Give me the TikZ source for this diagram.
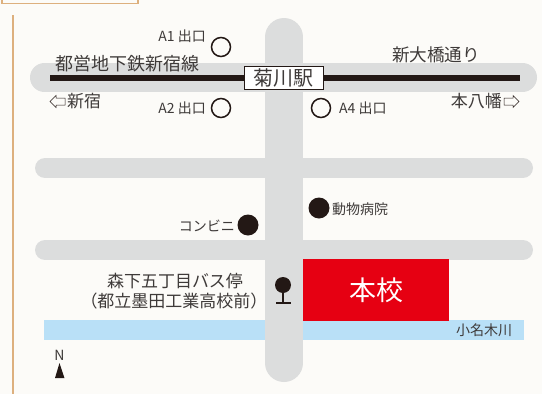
\documentclass[tikz,border=0pt]{standalone}
\usepackage{fontspec}
\setmainfont{Noto Sans CJK JP}[Scale=1]
\definecolor{bgc}{HTML}{FCFBF8}
\definecolor{roadc}{HTML}{DCDDDD}
\definecolor{inkc}{HTML}{231815}
\definecolor{textc}{HTML}{3E3A39}
\definecolor{tanc}{HTML}{DDB07E}
\definecolor{riverc}{HTML}{B9E0F7}
\definecolor{redc}{HTML}{E60012}
\tikzset{
 road/.style={line width=#1,draw=roadc,line cap=round},
 lbl/.style={text=textc,inner sep=0pt,font=\fontsize{#1}{#1}\selectfont},
 exitc/.style={circle,draw=inkc,line width=1.5pt,fill=none,minimum size=19pt,inner sep=0pt},
 spot/.style={circle,fill=inkc,minimum size=21pt,inner sep=0pt},
 hollowarrow/.style={draw=inkc,line width=0.5pt,fill=none}
}
\begin{document}
\begin{tikzpicture}[x=1pt,y=-1pt]
\useasboundingbox (0,0) rectangle (542,394);
\fill[bgc] (0,0) rectangle (542,394);
% frame remains
\draw[tanc,line width=1.6pt] (2,-2) -- (2,3.5) -- (138,3.5) -- (138,-2);
\draw[tanc,line width=1.2pt] (13,15) -- (13,394);
% river
\fill[riverc] (44,320) rectangle (524,340);
% roads
\draw[road=29pt] (44.5,77.5) -- (522.5,77.5);
\draw[road=20pt] (45,168) -- (523,168);
\draw[road=20pt] (45,250) -- (523,250);
\draw[road=38pt] (284,37) -- (284,363);
% school
\node[fill=redc,text=white,minimum width=146pt,minimum height=62pt,inner sep=0pt,font=\fontsize{27}{27}\selectfont] (school) at (376,290) {本校};
% subway
\coordinate (lineW) at (50,78);
\coordinate (lineE) at (520,78);
\draw[inkc,line width=6.5pt] (lineW) -- (lineE);
\node[draw=inkc,fill=white,line width=0.8pt,minimum width=79pt,minimum height=23pt,inner sep=0pt,text=textc,font=\fontsize{20}{20}\selectfont] (station) at (283.5,78) {菊川駅};
% labels
\node[lbl=18] (subway) at (127.5,64) {都営地下鉄新宿線};
\node[lbl=17.6] (street) at (436,55) {新大橋通り};
\node[lbl=17,anchor=west] (shinjuku) at (67,101.5) {新宿};
\node[lbl=17,anchor=east] (moto) at (502,101.5) {本八幡};
\draw[hollowarrow] (65,98) -- (56,98) -- (56,95.5) -- (50,101.5) -- (56,107.5) -- (56,105) -- (65,105) -- cycle;
\draw[hollowarrow] (504,98) -- (513,98) -- (513,95.5) -- (519,101.5) -- (513,107.5) -- (513,105) -- (504,105) -- cycle;
% exits
\node[exitc] (a1) at (221,47) {};
\node[exitc] (a2) at (221,108) {};
\node[exitc] (a4) at (321,108) {};
\node[lbl=14,anchor=east] (a1t) at (206,36) {A1 出口};
\node[lbl=14,anchor=east] (a2t) at (206,108) {A2 出口};
\node[lbl=14,anchor=west] (a4t) at (339,108) {A4 出口};
% spots
\node[spot] (konbini) at (248,225) {};
\node[lbl=14,anchor=east] (kt) at (235,225.5) {コンビニ};
\node[spot] (vet) at (319,208) {};
\node[lbl=14,anchor=west] (vt) at (332,209) {動物病院};
% bus stop
\node[lbl=17] (bus1) at (175,281) {森下五丁目バス停};
\node[lbl=17] (bus2) at (174,301) {（都立墨田工業高校前）};
\node[circle,fill=inkc,minimum size=16pt,inner sep=0pt] (stop) at (283,285) {};
\coordinate (stopB) at (283,303);
\coordinate (stopL) at (276,303);
\coordinate (stopR) at (291,303);
\draw[inkc,line width=1.2pt] (stop) -- (stopB);
\draw[inkc,line width=1.2pt] (stopL) -- (stopR);
% river label
\node[lbl=14] (river) at (484,330) {小名木川};
% north
\node[lbl=14] (n) at (59.5,355) {N};
\fill[inkc] (59.5,363) -- (64.5,378) -- (55,378) -- cycle;
\end{tikzpicture}
\end{document}
